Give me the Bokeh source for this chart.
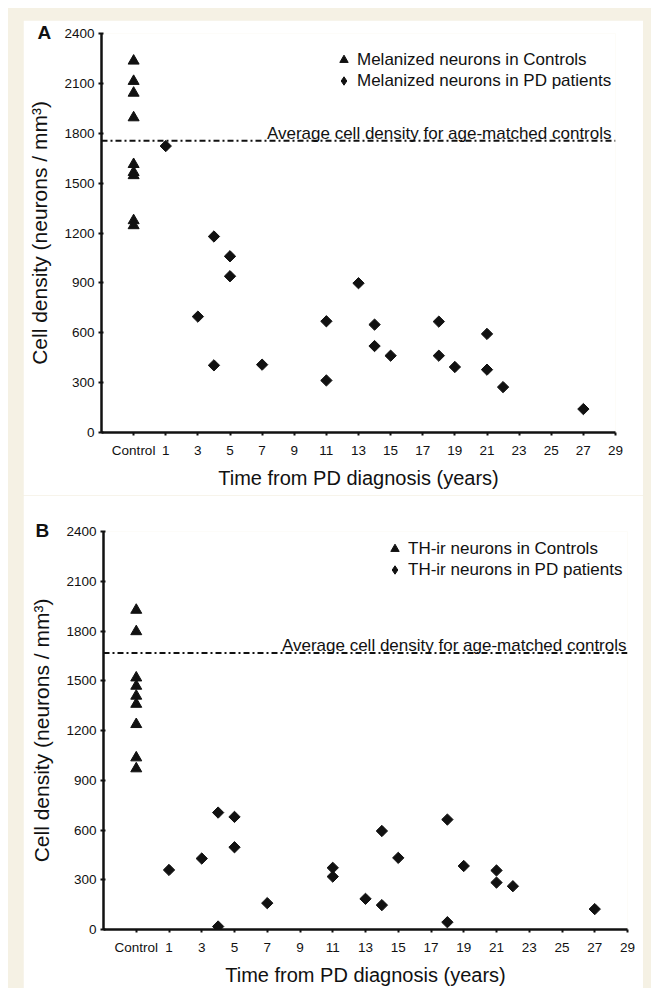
import numpy as np
from bokeh.plotting import figure
from bokeh.layouts import column
from bokeh.models import (FixedTicker, Span, Label, Legend, LegendItem, Range1d,
                          GlobalInlineStyleSheet)
from bokeh.embed import file_html
from bokeh.resources import INLINE

# ---------------- data ----------------
CONTROL_X = -1
x_ticks = [-1, 1, 3, 5, 7, 9, 11, 13, 15, 17, 19, 21, 23, 25, 27, 29]
x_tick_labels = ["Control", "1", "3", "5", "7", "9", "11", "13", "15", "17",
                 "19", "21", "23", "25", "27", "29"]
y_ticks = [0, 300, 600, 900, 1200, 1500, 1800, 2100, 2400]

a_control_y = [2235, 2113, 2042, 1894, 1613, 1565, 1546, 1275, 1245]
a_pd_x = [1, 3, 4, 4, 5, 5, 7, 11, 11, 13, 14, 14, 15, 18, 18, 19, 21, 21, 22, 27]
a_pd_y = [1723, 697, 1179, 404, 1060, 940, 408, 669, 313, 898, 649, 520, 462,
          667, 462, 394, 593, 378, 273, 141]
a_avg = 1755
a_labels = ["Melanized neurons in Controls", "Melanized neurons in PD patients"]

b_control_y = [1926, 1797, 1518, 1468, 1408, 1359, 1237, 1036, 970]
b_pd_x = [1, 3, 4, 4, 5, 5, 7, 11, 11, 13, 14, 14, 15, 18, 18, 19, 21, 21, 22, 27]
b_pd_y = [359, 428, 705, 18, 679, 496, 159, 372, 319, 185, 594, 147, 432,
          663, 44, 383, 356, 283, 261, 123]
b_avg = 1668
b_labels = ["TH-ir neurons in Controls", "TH-ir neurons in PD patients"]

avg_text = "Average cell density for age-matched controls"
x_title = "Time from PD diagnosis (years)"
y_title = "Cell density (neurons / mm\u00b3)"

FONT = "Liberation Sans"
CREAM = "#f5f1e4"
INK = "#111111"


def make_panel(letter, letter_offset, control_y, pd_x, pd_y, avg, labels,
               height, borders, legend_loc, avg_dx):
    left, right, top, bottom = borders
    p = figure(width=620, height=height, x_range=Range1d(-3, 29),
               y_range=Range1d(0, 2400), output_backend="svg",
               toolbar_location=None, min_border_left=left,
               min_border_right=right, min_border_top=top,
               min_border_bottom=bottom, title=letter)
    p.frame_align = False
    p.outline_line_color = None
    p.grid.visible = False
    p.background_fill_color = "white"
    p.border_fill_color = "white"

    # panel letter as the plot title, pulled down beside the top tick
    p.title.align = "left"
    p.title.offset = letter_offset
    p.title.standoff = -20
    p.title.vertical_align = "middle"
    p.title.text_font = FONT
    p.title.text_font_style = "bold"
    p.title.text_font_size = "19px"
    p.title.text_color = INK

    for ax in (p.xaxis[0], p.yaxis[0]):
        ax.axis_line_width = 2.5
        ax.axis_line_color = INK
        ax.major_tick_line_width = 2
        ax.major_tick_line_color = INK
        ax.minor_tick_line_color = None
        ax.major_label_text_font = FONT
        ax.major_label_text_font_size = "13.5px"
        ax.major_label_text_color = INK
        ax.axis_label_text_font = FONT
        ax.axis_label_text_font_style = "normal"
        ax.axis_label_text_color = INK

    xa = p.xaxis[0]
    xa.ticker = FixedTicker(ticks=x_ticks)
    xa.major_label_overrides = {t: l for t, l in zip(x_ticks, x_tick_labels)}
    xa.major_tick_out = 3
    xa.major_tick_in = 0
    xa.major_label_standoff = 7
    xa.axis_label = x_title
    xa.axis_label_standoff = 6
    xa.axis_label_text_font_size = "20px"

    ya = p.yaxis[0]
    ya.ticker = FixedTicker(ticks=y_ticks)
    ya.major_tick_out = 3
    ya.major_tick_in = 2
    ya.major_label_standoff = 4
    ya.axis_label = y_title
    ya.axis_label_standoff = 10
    ya.axis_label_text_font_size = "21px"

    p.add_layout(Span(location=avg, dimension="width", line_color=INK,
                      line_width=2, line_dash="6 3 2 3"))
    p.add_layout(Label(x=29, y=avg, text=avg_text, text_align="right",
                       text_baseline="alphabetic", x_offset=avg_dx, y_offset=7,
                       text_font=FONT, text_font_size="17px",
                       text_color=INK))

    r_c = p.scatter(x=[CONTROL_X] * len(control_y), y=control_y,
                    marker="triangle", size=11, color=INK)
    p.scatter(x=pd_x, y=pd_y, marker="square", angle=np.pi / 4,
              size=8, color=INK)
    # legend swatch for the diamond series (a single undrawn NaN point)
    r_key = p.scatter(x=[np.nan], y=[np.nan], marker="diamond", color=INK)

    leg = Legend(items=[LegendItem(label=labels[0], renderers=[r_c]),
                        LegendItem(label=labels[1], renderers=[r_key])],
                 location=legend_loc, orientation="vertical",
                 border_line_color=None, background_fill_alpha=0,
                 padding=0, margin=0, spacing=0, glyph_width=21,
                 glyph_height=21, label_height=21, label_standoff=3,
                 label_text_font=FONT, label_text_font_size="17px",
                 label_text_color=INK)
    p.add_layout(leg)
    return p


pA = make_panel("A", -64, a_control_y, a_pd_x, a_pd_y, a_avg, a_labels, 475,
                (78, 28, 13, 63), (232, 341), -4)
pB = make_panel("B", -68, b_control_y, b_pd_x, b_pd_y, b_avg, b_labels, 493,
                (80, 16, 36, 56), (281, 349), -1)

page_css = GlobalInlineStyleSheet(css=(
    "html { background: #ffffff; overflow: hidden; }"
    "body { margin: 8px 0 0 8px !important; padding: 12px 0 0 15px; "
    "background: " + CREAM + "; overflow: hidden; }"))

layout = column(pA, pB, stylesheets=[page_css])

open("out.html", "w").write(file_html(layout, INLINE))
